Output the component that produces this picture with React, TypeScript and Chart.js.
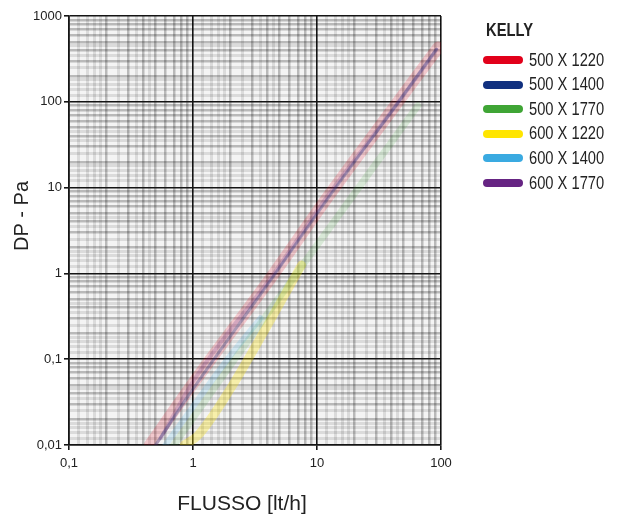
import React, { useEffect, useRef } from 'react';
import { Chart, registerables } from 'chart.js';

Chart.register(...registerables);

// ---- data ----
const seriesNames = ['500 X 1220', '500 X 1400', '500 X 1770', '600 X 1220', '600 X 1400', '600 X 1770'];
const seriesColors = ['#e2001a', '#10307f', '#3fa535', '#ffe500', '#3aaae1', '#662483'];

const red1220X = [0.45, 1, 4.5, 12, 45, 95];
const red1220Y = [0.01, 0.052, 1, 7.5, 100, 430];
const blue1400X = [0.5, 1, 4.5, 12, 45, 92];
const blue1400Y = [0.01, 0.045, 0.95, 7.2, 98, 410];
const green1770X = [0.7, 2, 6, 20, 65];
const green1770Y = [0.01, 0.085, 0.77, 8.5, 90];
const yellow1220X = [0.85, 1.1, 2, 4, 7.5];
const yellow1220Y = [0.01, 0.013, 0.045, 0.25, 1.25];
const lightBlue1400X = [0.6, 1, 2, 3.5];
const lightBlue1400Y = [0.01, 0.028, 0.11, 0.3];
const purple1770X = [0.55, 1, 4.6, 12, 46, 92];
const purple1770Y = [0.012, 0.055, 1.05, 7.8, 102, 405];

const xMajorTicks = [0.1, 1, 10, 100];
const xTickLabels = ['0,1', '1', '10', '100'];
const yMajorTicks = [0.01, 0.1, 1, 10, 100, 1000];
const yTickLabels = ['0,01', '0,1', '1', '10', '100', '1000'];
const minorMantissas = [
  1.2, 1.4, 1.6, 1.8,
  2, 2.5, 3, 3.5, 4, 4.5,
  5, 6, 7, 8, 9,
];

const xTitle = 'FLUSSO [lt/h]';
const yTitle = 'DP - Pa';
const legendTitle = 'KELLY';

const seriesX = [red1220X, blue1400X, green1770X, yellow1220X, lightBlue1400X, purple1770X];
const seriesY = [red1220Y, blue1400Y, green1770Y, yellow1220Y, lightBlue1400Y, purple1770Y];
const lineAlpha = [0.18, 0.3, 0.15, 0.3, 0.18, 0.2];
const lineWidth = [12, 3, 7, 9, 6, 4];
const drawOrder = [3, 2, 4, 0, 5, 1];

function buildTicks(majors: number[]) {
  const out: number[] = [];
  for (let i = 0; i < majors.length; i++) {
    out.push(majors[i]);
    if (i < majors.length - 1) {
      for (const m of minorMantissas) out.push(+(majors[i] * m).toPrecision(6));
    }
  }
  return out;
}

function isMajor(v: number, majors: number[]) {
  return majors.some((m) => Math.abs(v - m) / m < 1e-6);
}

function hexToRgba(hex: string, a: number) {
  const n = parseInt(hex.slice(1), 16);
  return `rgba(${(n >> 16) & 255},${(n >> 8) & 255},${n & 255},${a})`;
}

const FONT = '"Liberation Sans", Arial, sans-serif';

export default function App() {
  const canvasRef = useRef<HTMLCanvasElement | null>(null);

  useEffect(() => {
    const canvas = canvasRef.current;
    if (!canvas) return;

    const datasets = drawOrder.map((i, order) => ({
      label: seriesNames[i],
      data: seriesX[i].map((x, k) => ({ x, y: seriesY[i][k] })),
      borderColor: hexToRgba(seriesColors[i], lineAlpha[i]),
      backgroundColor: seriesColors[i],
      borderWidth: lineWidth[i],
      pointRadius: 0,
      cubicInterpolationMode: 'monotone' as const,
      borderCapStyle: 'round' as const,
      fill: false,
      order: -order,
    }));

    const mantissaOf = (v: number) => {
      const exp = Math.pow(10, Math.floor(Math.log10(v) + 1e-9));
      return +(v / exp).toFixed(4);
    };
    const gridColor = (majors: number[]) => (ctx: any) => {
      const v = ctx.tick ? ctx.tick.value : 0;
      if (isMajor(v, majors)) return '#151515';
      return Number.isInteger(mantissaOf(v)) ? 'rgba(0,0,0,0.24)' : 'rgba(0,0,0,0.1)';
    };
    const gridWidth = (majors: number[]) => (ctx: any) => {
      const v = ctx.tick ? ctx.tick.value : 0;
      if (isMajor(v, majors)) return 1.6;
      return Number.isInteger(mantissaOf(v)) ? 2.5 : 3;
    };
    const tickColor = (majors: number[]) => (ctx: any) => {
      const v = ctx.tick ? ctx.tick.value : 0;
      return isMajor(v, majors) ? '#151515' : 'rgba(0,0,0,0)';
    };

    const bgPlugin = {
      id: 'plotBg',
      beforeDraw(chart: any) {
        const { ctx, chartArea } = chart;
        ctx.save();
        ctx.fillStyle = '#f4f4f4';
        ctx.fillRect(chartArea.left, chartArea.top, chartArea.right - chartArea.left, chartArea.bottom - chartArea.top);
        ctx.restore();
      },
      afterDraw(chart: any) {
        const { ctx } = chart;
        ctx.save();
        ctx.fillStyle = '#222';
        ctx.textAlign = 'center';
        ctx.textBaseline = 'middle';
        ctx.font = `20px ${FONT}`;
        ctx.translate(22, 216);
        ctx.rotate(-Math.PI / 2);
        ctx.fillText(yTitle, 0, 0);
        ctx.restore();
        ctx.save();
        ctx.fillStyle = '#222';
        ctx.textAlign = 'center';
        ctx.textBaseline = 'middle';
        ctx.font = `21px ${FONT}`;
        ctx.fillText(xTitle, 242, 504);
        ctx.restore();
      },
    };

    const chart = new Chart(canvas, {
      type: 'line',
      data: { datasets },
      plugins: [bgPlugin],
      options: {
        animation: false,
        responsive: false,
        maintainAspectRatio: false,
        layout: { padding: { left: 0, top: 16, right: 176, bottom: 0 } },
        plugins: { legend: { display: false }, tooltip: { enabled: false } },
        scales: {
          x: {
            type: 'logarithmic',
            min: 0.1,
            max: 100,
            afterBuildTicks: (scale: any) => {
              scale.ticks = buildTicks(xMajorTicks).map((value) => ({ value }));
            },
            afterFit: (scale: any) => {
              scale.height = 74;
            },
            ticks: {
              autoSkip: false,
              maxRotation: 0,
              padding: 6,
              color: '#222',
              font: { family: FONT, size: 13 },
              callback: (value: any) => {
                const idx = xMajorTicks.findIndex((m) => Math.abs(Number(value) - m) / m < 1e-6);
                return idx >= 0 ? xTickLabels[idx] : '';
              },
            },
            grid: {
              color: gridColor(xMajorTicks),
              lineWidth: gridWidth(xMajorTicks),
              tickColor: tickColor(xMajorTicks),
              tickLength: 5,
              drawTicks: true,
            },
            border: { color: '#151515', width: 1.6 },
          },
          y: {
            type: 'logarithmic',
            min: 0.01,
            max: 1000,
            afterBuildTicks: (scale: any) => {
              scale.ticks = buildTicks(yMajorTicks).map((value) => ({ value }));
            },
            afterFit: (scale: any) => {
              scale.width = 69;
            },
            ticks: {
              autoSkip: false,
              padding: 2,
              color: '#222',
              font: { family: FONT, size: 13 },
              callback: (value: any) => {
                const idx = yMajorTicks.findIndex((m) => Math.abs(Number(value) - m) / m < 1e-6);
                return idx >= 0 ? yTickLabels[idx] : '';
              },
            },
            grid: {
              color: gridColor(yMajorTicks),
              lineWidth: gridWidth(yMajorTicks),
              tickColor: tickColor(yMajorTicks),
              tickLength: 5,
              drawTicks: true,
            },
            border: { color: '#151515', width: 1.6 },
          },
        },
      },
    } as any);

    return () => chart.destroy();
  }, []);

  return (
    <div style={{ position: 'fixed', left: 0, top: 0, width: 617, height: 519, background: '#fff', overflow: 'hidden' }}>
      <canvas ref={canvasRef} width={617} height={519} style={{ width: 617, height: 519, display: 'block' }} />
      <div
        style={{
          position: 'absolute',
          left: 486,
          top: 21,
          fontFamily: FONT,
          fontWeight: 'bold',
          fontSize: 18,
          color: '#222',
          transform: 'scaleX(0.82)',
          transformOrigin: 'left center',
          lineHeight: '18px',
        }}
      >
        {legendTitle}
      </div>
      {seriesNames.map((name, i) => (
        <div
          key={name}
          style={{ position: 'absolute', left: 483, top: 60 + i * 24.6 - 10, height: 20, display: 'flex', alignItems: 'center' }}
        >
          <span style={{ display: 'inline-block', width: 40, height: 8, borderRadius: 4, background: seriesColors[i] }} />
          <span
            style={{
              display: 'inline-block',
              marginLeft: 6,
              fontFamily: FONT,
              fontSize: 17.5,
              color: '#222',
              transform: 'scaleX(0.84)',
              transformOrigin: 'left center',
              whiteSpace: 'nowrap',
            }}
          >
            {name}
          </span>
        </div>
      ))}
    </div>
  );
}
